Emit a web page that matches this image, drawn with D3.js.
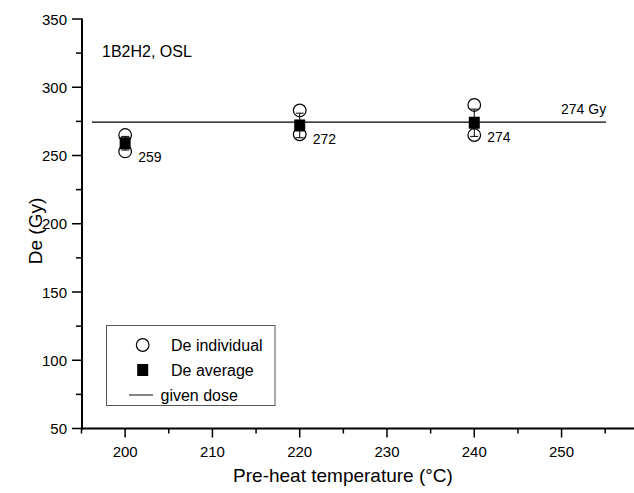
<!DOCTYPE html>
<html><head><meta charset="utf-8">
<script src="https://cdn.jsdelivr.net/npm/d3@7"></script>
<style>
body{margin:0;background:#fff;}
svg{display:block;font-family:"Liberation Sans",Arial,sans-serif;}
</style></head>
<body><svg id="c" width="634" height="493"></svg>
<script>
const temps = [200, 220, 240];
const indivHigh = [265, 283, 287];
const indivLow = [253, 265.5, 265];
const averages = [259, 272, 274];
const errors = [5, 9, 10];
const avgLabels = ["259", "272", "274"];
const givenDose = 274.5;
const givenDoseLabel = "274 Gy";
const sampleLabel = "1B2H2, OSL";
const xTicks = [200, 210, 220, 230, 240, 250];
const xMinorTicks = [195, 205, 215, 225, 235, 245, 255];
const yTicks = [50, 100, 150, 200, 250, 300, 350];
const yMinorTicks = [75, 125, 175, 225, 275, 325];

const svg = d3.select("#c");
const x = d3.scaleLinear().domain([195, 258.3]).range([81.5, 634]);
const y = d3.scaleLinear().domain([50, 350]).range([428.5, 19]);
const X0 = 82, Y0 = 428.5;

const ax = svg.append("g");
ax.append("rect").attr("x", X0 - 1).attr("y", y(350) - 0.5).attr("width", 2).attr("height", Y0 + 1 - y(350) + 0.5).attr("fill", "#000");
ax.append("rect").attr("x", X0 - 1).attr("y", Y0 - 1).attr("width", 634 - X0 + 1).attr("height", 2).attr("fill", "#000");
ax.selectAll("rect.xt").data(xTicks).join("rect").attr("class", "xt")
  .attr("x", d => x(d) - 0.75).attr("y", Y0).attr("width", 1.5).attr("height", 9).attr("fill", "#000");
ax.selectAll("rect.xm").data(xMinorTicks).join("rect").attr("class", "xm")
  .attr("x", d => x(d) - 0.75).attr("y", Y0).attr("width", 1.5).attr("height", 5).attr("fill", "#000");
ax.selectAll("rect.yt").data(yTicks).join("rect").attr("class", "yt")
  .attr("x", X0 - 10).attr("y", d => y(d) - 0.75).attr("width", 10).attr("height", 1.5).attr("fill", "#000");
ax.selectAll("rect.ym").data(yMinorTicks).join("rect").attr("class", "ym")
  .attr("x", X0 - 6).attr("y", d => y(d) - 0.75).attr("width", 6).attr("height", 1.5).attr("fill", "#000");
svg.append("g").selectAll("text").data(xTicks).join("text")
  .attr("x", d => x(d)).attr("y", 457).attr("text-anchor", "middle").attr("font-size", 15).text(d => d);
svg.append("g").selectAll("text").data(yTicks).join("text")
  .attr("x", 67).attr("y", d => y(d) + 5.5).attr("text-anchor", "end").attr("font-size", 15).text(d => d);

svg.append("text").attr("x", 343).attr("y", 482).attr("text-anchor", "middle")
  .attr("font-size", 19).text("Pre-heat temperature (°C)");
svg.append("text").attr("transform", "translate(42,231) rotate(-90)").attr("text-anchor", "middle")
  .attr("font-size", 19).text("De (Gy)");

svg.append("text").attr("x", 102).attr("y", 57).attr("font-size", 16).text(sampleLabel);

svg.append("line").attr("x1", 92).attr("x2", 606)
  .attr("y1", y(givenDose)).attr("y2", y(givenDose)).attr("stroke", "#000").attr("stroke-width", 1.2);
svg.append("text").attr("x", 561).attr("y", y(givenDose) - 8).attr("font-size", 14).text(givenDoseLabel);

const eb = svg.append("g").attr("stroke", "#000").attr("stroke-width", 1);
temps.forEach((t, i) => {
  const cx = x(t);
  eb.append("line").attr("x1", cx).attr("x2", cx).attr("y1", y(averages[i] + errors[i])).attr("y2", y(averages[i] - errors[i]));
  [averages[i] + errors[i], averages[i] - errors[i]].forEach(v => {
    eb.append("line").attr("x1", cx - 4).attr("x2", cx + 4).attr("y1", y(v)).attr("y2", y(v));
  });
});

const indiv = [];
temps.forEach((t, i) => { indiv.push([t, indivHigh[i]]); indiv.push([t, indivLow[i]]); });
svg.append("g").selectAll("circle").data(indiv).join("circle")
  .attr("cx", d => x(d[0])).attr("cy", d => y(d[1])).attr("r", 6.3)
  .attr("fill", "none").attr("stroke", "#000").attr("stroke-width", 1.2);

svg.append("g").selectAll("rect").data(temps).join("rect")
  .attr("x", t => x(t) - 5.5).attr("y", (t, i) => y(averages[i]) - 6)
  .attr("width", 11).attr("height", 12).attr("fill", "#000");

svg.append("g").selectAll("text").data(temps).join("text")
  .attr("x", t => x(t) + 13).attr("y", (t, i) => y(averages[i]) + 19)
  .attr("font-size", 14).text((t, i) => avgLabels[i]);

const lg = svg.append("g");
lg.append("rect").attr("x", 106.5).attr("y", 325.5).attr("width", 168.5).attr("height", 80)
  .attr("fill", "none").attr("stroke", "#555").attr("stroke-width", 1);
lg.append("circle").attr("cx", 142.7).attr("cy", 345).attr("r", 6.3)
  .attr("fill", "none").attr("stroke", "#000").attr("stroke-width", 1.2);
lg.append("text").attr("x", 171).attr("y", 351).attr("font-size", 16).text("De individual");
lg.append("rect").attr("x", 137.2).attr("y", 364).attr("width", 11).attr("height", 12).attr("fill", "#000");
lg.append("text").attr("x", 171).attr("y", 376).attr("font-size", 16).text("De average");
lg.append("line").attr("x1", 129).attr("x2", 153).attr("y1", 395).attr("y2", 395)
  .attr("stroke", "#333").attr("stroke-width", 1.2);
lg.append("text").attr("x", 160.5).attr("y", 401).attr("font-size", 16).text("given dose");
</script></body></html>
